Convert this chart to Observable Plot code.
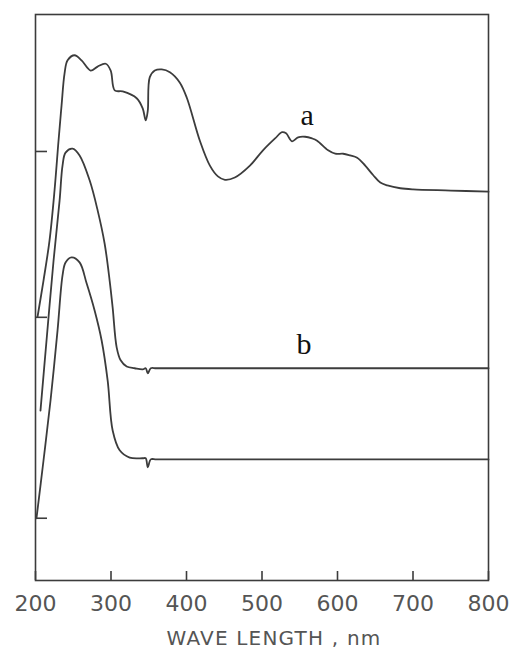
<!DOCTYPE html>
<html>
<head>
<meta charset="utf-8">
<script src="https://cdn.jsdelivr.net/npm/d3@7"></script>
<script src="https://cdn.jsdelivr.net/npm/@observablehq/plot@0.6"></script>
<style>
  html, body { margin: 0; padding: 0; background: #fff; }
</style>
</head>
<body>
<div id="chart"></div>
<script>
// Wavelength (nm) and relative absorbance (arbitrary units, 0-100)
const waveA = [202.7, 210.6, 218.6, 225.2, 230.5, 234.5, 238.5, 242.5, 251.8, 261, 273, 282.3, 293, 299.6, 304.9, 315.5, 334, 342, 346, 348.7, 351.3, 358, 367.3, 378, 391, 400.4, 417.7, 431, 441.6, 450.9, 464, 484, 501.3, 517.3, 526.6, 531.9, 539.8, 547.8, 557, 566.4, 573, 587.6, 597, 607.5, 616.8, 626, 636.7, 647.4, 656.7, 666, 683.2, 700, 750, 800];
const absA  = [46.6, 53.0, 60.1, 68.9, 77.7, 83.9, 89.6, 91.9, 92.8, 91.9, 90.1, 90.8, 91.3, 90.1, 86.6, 86.4, 85.2, 83.4, 81.3, 83.0, 88.9, 90.1, 90.3, 89.8, 88.0, 85.3, 77.7, 73.3, 71.4, 70.8, 71.2, 73.3, 76.0, 78.1, 79.2, 79.0, 77.6, 78.3, 78.4, 78.1, 77.7, 76.0, 75.4, 75.4, 75.1, 74.7, 73.3, 71.6, 70.3, 69.8, 69.3, 69.1, 68.9, 68.7];

const waveB = [206.6, 214.6, 223.9, 231.9, 235.8, 239.8, 249.1, 258.4, 271.7, 282.3, 291.6, 298.2, 302.2, 307.5, 312.8, 320.8, 331.4, 342, 346, 348.7, 352.7, 360, 400, 500, 600, 700, 800];
const absB  = [30.0, 42.4, 56.5, 67.1, 73.3, 75.6, 76.3, 75.1, 70.7, 65.4, 59.5, 53.0, 48.2, 41.2, 38.9, 37.8, 37.5, 37.3, 37.5, 36.6, 37.5, 37.5, 37.5, 37.5, 37.5, 37.5, 37.5];

const waveC = [201.3, 210.6, 219.9, 229.2, 235.8, 239.8, 247.8, 258.4, 267.7, 278.3, 287.6, 295.6, 302.2, 311.5, 324.8, 342, 346, 348.7, 352.7, 360, 400, 500, 600, 700, 800];
const absC  = [11.0, 21.2, 31.8, 44.2, 53.9, 56.2, 57.1, 56.2, 52.5, 47.7, 42.4, 35.3, 26.5, 23.0, 21.7, 21.6, 21.6, 20.0, 21.4, 21.4, 21.4, 21.4, 21.4, 21.4, 21.4];

const xTicks = [200, 300, 400, 500, 600, 700, 800];
const yTicks = [11.0, 46.5, 75.8];
const curveLabels = ["a", "b"];
const labelWave = [559.8, 555.7];
const labelAbs = [82.1, 41.8];
const xLabel = "WAVE LENGTH , nm";

const toRows = (w, a, s) => w.map((x, i) => ({nm: x, v: a[i], s}));
const series = [
  ...toRows(waveA, absA, "a"),
  ...toRows(waveB, absB, "b"),
  ...toRows(waveC, absC, "c")
];
const labelRows = curveLabels.map((t, i) => ({t, nm: labelWave[i], v: labelAbs[i]}));

const W = 511, H = 653, mT = 14, mB = 73, mL = 35, mR = 23;
const innerH = H - mT - mB, innerW = W - mL - mR;
const ink = "#3c3c3c";

const chart = Plot.plot({
  width: W,
  height: H,
  marginTop: mT,
  marginBottom: mB,
  marginLeft: mL,
  marginRight: mR,
  style: {background: "#fff", color: ink},
  x: {domain: [200, 800]},
  y: {domain: [0, 100], axis: null},
  marks: [
    Plot.frame({stroke: ink, strokeWidth: 1.6}),
    Plot.tickX(xTicks, {x: d => d, stroke: ink, strokeWidth: 1.6, insetTop: innerH - 9}),
    Plot.tickY(yTicks, {y: d => d, stroke: ink, strokeWidth: 1.6, insetRight: innerW - 12}),
    Plot.axisX(xTicks, {
      tickSize: 0,
      tickPadding: 15,
      fontSize: 22,
      fontFamily: "DejaVu Sans",
      fill: "#555",
      label: null,
      tickFormat: d => String(d)
    }),
    Plot.line(series, {x: "nm", y: "v", z: "s", stroke: ink, strokeWidth: 1.8, curve: "catmull-rom"}),
    Plot.text(labelRows, {x: "nm", y: "v", text: "t", fontSize: 30, fontFamily: "Liberation Serif", fill: "#111"}),
    Plot.text([xLabel], {
      text: d => d,
      frameAnchor: "bottom",
      dy: 64,
      dx: 12,
      fontSize: 20,
      fontFamily: "DejaVu Sans",
      fill: "#555"
    })
  ]
});

// letter spacing on the x-axis label
chart.querySelectorAll("text").forEach(t => {
  if (t.textContent === xLabel) t.setAttribute("letter-spacing", "1.2");
});

document.getElementById("chart").appendChild(chart);
</script>
</body>
</html>
